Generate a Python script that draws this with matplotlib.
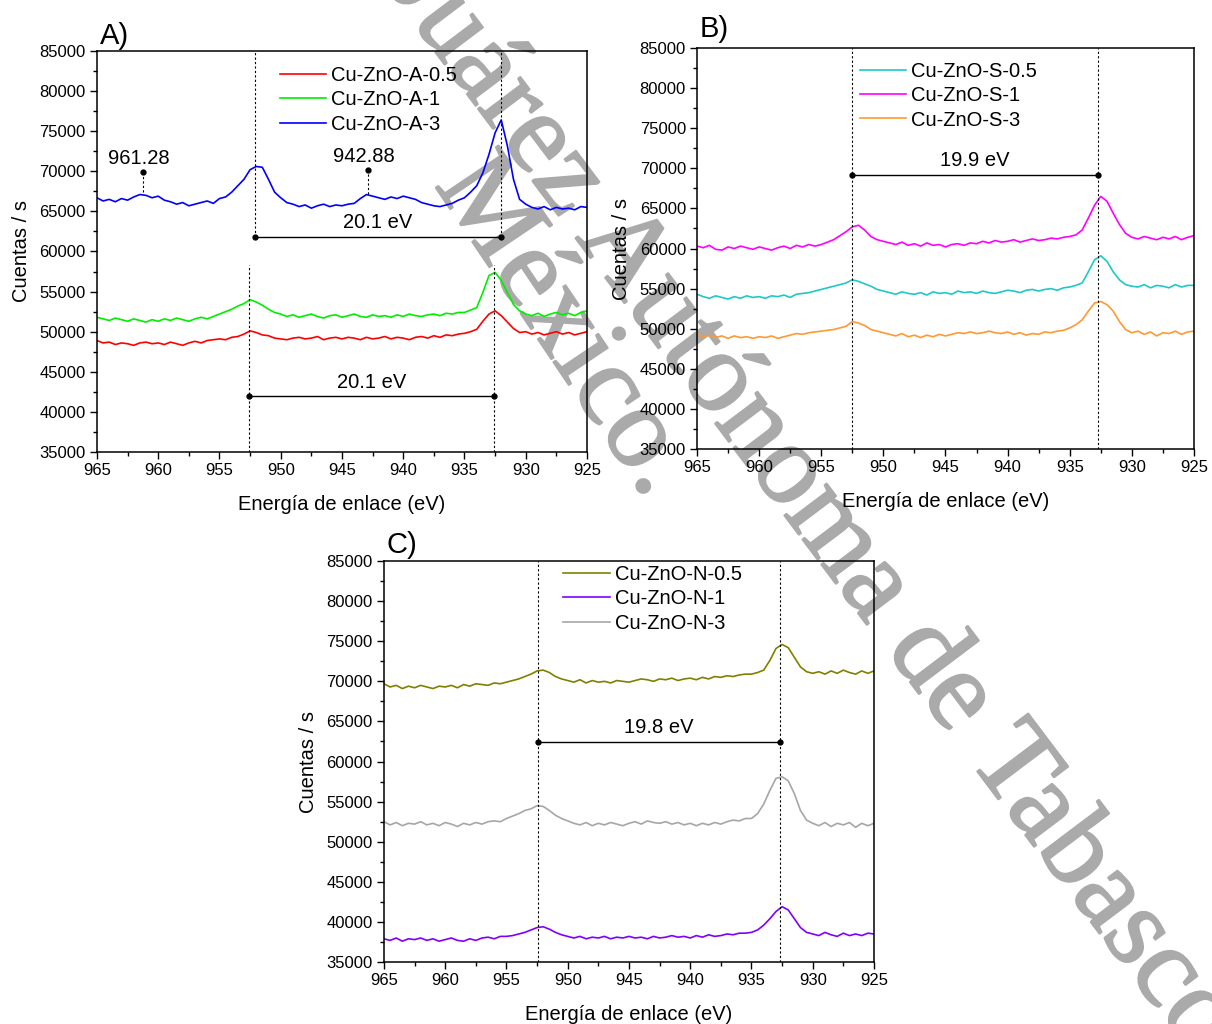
import numpy as np
import matplotlib
matplotlib.use("Agg")
import matplotlib.pyplot as plt
import matplotlib.patheffects as pe
from matplotlib.ticker import MultipleLocator

plt.rcParams['font.family'] = ['Liberation Sans', 'DejaVu Sans']

# binding energy grid, 965 -> 925 eV in 0.5 eV steps (81 points)
energy = np.linspace(965, 925, 81)

# --- panel A ---
cu_zno_a_05 = [48900, 48600, 48700, 48400, 48600, 48500, 48300, 48600, 48700, 48500,
               48600, 48400, 48700, 48500, 48300, 48600, 48800, 48600, 48900, 49000,
               49100, 49000, 49300, 49400, 49700, 50100, 49900, 49600, 49500, 49200,
               49100, 49000, 49200, 49300, 49100, 49200, 49400, 49000, 49200, 49300,
               49100, 49300, 49200, 49000, 49300, 49100, 49200, 49400, 49100, 49300,
               49200, 49000, 49300, 49400, 49200, 49500, 49300, 49600, 49500, 49700,
               49800, 50000, 50300, 51300, 52200, 52600, 52000, 51200, 50400, 49900,
               50000, 49700, 49900, 49600, 49800, 50000, 49700, 49900, 49600, 49800,
               50000]
cu_zno_a_1 = [51800, 51600, 51400, 51700, 51500, 51300, 51600, 51400, 51200, 51500,
              51300, 51600, 51400, 51700, 51500, 51300, 51600, 51800, 51600, 51900,
              52200, 52500, 52800, 53200, 53500, 54000, 53700, 53300, 52800, 52400,
              52200, 51900, 52100, 51800, 52000, 52200, 51900, 51700, 52000, 52100,
              51800, 52000, 52200, 51900, 51800, 52100, 51900, 52000, 51800, 52100,
              51900, 52200, 52000, 51900, 52100, 52200, 52000, 52300, 52200, 52400,
              52400, 52700, 53000, 54900, 57000, 57400, 56400, 54900, 53400, 52600,
              52200, 52000, 52300, 51900, 52200, 52400, 52100, 52300, 52000, 52400,
              52600]
cu_zno_a_3 = [66700, 66300, 66500, 66200, 66600, 66400, 66800, 67100, 67000, 66700,
              66900, 66400, 66200, 65900, 66100, 65700, 65900, 66100, 66300, 66000,
              66600, 66800, 67400, 68200, 69000, 70200, 70600, 70500, 69000, 67400,
              66700, 66100, 65900, 65600, 65800, 65400, 65700, 65900, 65600, 65800,
              65700, 65900, 66000, 66600, 67100, 66900, 66700, 66500, 66800, 66600,
              66900, 66700, 66500, 66100, 65900, 65700, 65600, 65800, 66000, 66400,
              66700, 67400, 68200, 69800, 72100, 74800, 76400, 73200, 69000, 66500,
              65900, 65500, 65300, 65600, 65200, 65500, 65300, 65400, 65200, 65600,
              65500]

# --- panel B ---
cu_zno_s_05 = [54300, 54000, 53800, 54100, 53900, 53700, 54000, 53800, 54100, 53900,
               54000, 53800, 54100, 54000, 54200, 53900, 54300, 54400, 54500, 54700,
               54900, 55100, 55300, 55500, 55700, 56100, 55900, 55600, 55300, 54900,
               54700, 54500, 54300, 54600, 54400, 54300, 54500, 54200, 54600, 54400,
               54500, 54300, 54700, 54500, 54600, 54400, 54700, 54500, 54400, 54600,
               54800, 54700, 54500, 54800, 54900, 54700, 54900, 55000, 54800, 55100,
               55200, 55400, 55700, 57100, 58600, 59100, 58400, 57100, 56100, 55500,
               55300, 55200, 55500, 55100, 55400, 55300, 55100, 55500, 55200, 55400,
               55400]
cu_zno_s_1 = [60300, 60100, 60400, 59900, 59800, 60200, 60000, 60300, 60100, 59900,
              60200, 60000, 59800, 60100, 60300, 60000, 60400, 60200, 60500, 60300,
              60500, 60800, 61100, 61600, 62100, 62700, 62900, 62300, 61500, 61100,
              60900, 60700, 60500, 60800, 60400, 60600, 60300, 60700, 60400, 60500,
              60200, 60500, 60600, 60400, 60700, 60600, 60900, 60700, 61000, 60800,
              60900, 61100, 60800, 61000, 61200, 61000, 61100, 61300, 61200, 61400,
              61500, 61700, 62300, 63800, 65400, 66500, 65900, 64400, 63000, 61900,
              61400, 61200, 61500, 61300, 61100, 61400, 61200, 61500, 61100, 61400,
              61600]
cu_zno_s_3 = [49300, 49000, 49200, 48900, 49100, 48800, 49100, 48900, 49000, 48800,
              49000, 48900, 49100, 48800, 49000, 49200, 49400, 49300, 49500, 49600,
              49700, 49800, 49900, 50100, 50300, 50900, 50700, 50400, 49900, 49700,
              49500, 49300, 49100, 49400, 49000, 49200, 48900, 49200, 49000, 49300,
              49100, 49300, 49500, 49400, 49600, 49400, 49500, 49700, 49500, 49400,
              49600, 49300, 49500, 49200, 49400, 49300, 49600, 49500, 49700, 49800,
              50100, 50500, 51100, 52200, 53200, 53400, 53000, 52200, 50900, 49900,
              49500, 49700, 49300, 49600, 49100, 49500, 49400, 49700, 49300, 49600,
              49700]

# --- panel C ---
cu_zno_n_05 = [69700, 69300, 69500, 69100, 69400, 69200, 69500, 69300, 69100, 69400,
               69300, 69500, 69200, 69600, 69400, 69700, 69600, 69500, 69800, 69700,
               69900, 70100, 70300, 70600, 70900, 71300, 71400, 71100, 70600, 70300,
               70100, 69900, 70200, 69800, 70100, 69900, 70000, 69800, 70100, 70000,
               69900, 70100, 70300, 70200, 70000, 70300, 70200, 70400, 70100, 70300,
               70400, 70200, 70500, 70300, 70600, 70500, 70700, 70600, 70800, 70900,
               70900, 71100, 71400, 72600, 74100, 74600, 74200, 73000, 71800, 71200,
               71000, 71200, 70900, 71300, 71000, 71400, 71100, 70900, 71300, 71000,
               71300]
cu_zno_n_1 = [37900, 37700, 38000, 37600, 37900, 37800, 38000, 37700, 37900, 37600,
              37800, 38000, 37700, 37600, 37900, 37700, 38000, 38100, 37900, 38200,
              38200, 38300, 38500, 38700, 39000, 39300, 39400, 39100, 38700, 38400,
              38200, 38000, 38200, 37900, 38100, 38000, 38200, 37900, 38100, 38000,
              38200, 38000, 38100, 37900, 38200, 38000, 38100, 38300, 38100, 38200,
              38000, 38300, 38100, 38400, 38200, 38300, 38500, 38400, 38600, 38600,
              38700, 39000, 39600, 40400, 41300, 41900, 41500, 40400, 39300, 38700,
              38500, 38300, 38700, 38400, 38200, 38600, 38300, 38500, 38300, 38600,
              38500]
cu_zno_n_3 = [52500, 52100, 52400, 52000, 52300, 52200, 52500, 52100, 52300, 52000,
              52400, 52200, 51900, 52300, 52100, 52400, 52200, 52500, 52600, 52500,
              52900, 53200, 53500, 53900, 54100, 54500, 54400, 53900, 53300, 52900,
              52600, 52300, 52100, 52400, 52000, 52300, 52100, 52400, 52200, 52000,
              52300, 52500, 52200, 52600, 52400, 52300, 52500, 52200, 52400, 52100,
              52300, 52000, 52300, 52100, 52400, 52200, 52500, 52700, 52600, 52900,
              52900, 53500, 54700, 56400, 57900, 58100, 57600, 56000, 53900, 52700,
              52300, 52000, 52400, 51900, 52300, 52100, 52400, 51800, 52300, 52000,
              52300]

labels_a = ["Cu-ZnO-A-0.5", "Cu-ZnO-A-1", "Cu-ZnO-A-3"]
labels_s = ["Cu-ZnO-S-0.5", "Cu-ZnO-S-1", "Cu-ZnO-S-3"]
labels_n = ["Cu-ZnO-N-0.5", "Cu-ZnO-N-1", "Cu-ZnO-N-3"]
colors_a = ["#ff0000", "#00ee00", "#0000ff"]
colors_s = ["#1ec8c8", "#ff00ff", "#ff9933"]
colors_n = ["#808000", "#8000ff", "#a6a6a6"]

# peak marks: (Cu 2p1/2, Cu 2p3/2, bracket height, label)
marks_a_top = (952.1, 932.0, 61850, "20.1 eV")
marks_a_bot = (952.6, 932.6, 41930, "20.1 eV")
marks_s = (952.5, 932.75, 69200, "19.9 eV")
marks_n = (952.45, 932.7, 62430, "19.8 eV")
satellites = [(961.28, 67400, 69850, "961.28"), (942.88, 67150, 70190, "942.88")]

fig = plt.figure(figsize=(12.12, 10.24), dpi=100)
ax_a = fig.add_axes([0.0800, 0.5586, 0.4043, 0.3916])
ax_b = fig.add_axes([0.5751, 0.5615, 0.4100, 0.3916])
ax_c = fig.add_axes([0.3168, 0.0605, 0.4043, 0.3916])


def style(ax, letter, ly):
    ax.set_facecolor('none')
    ax.set_xlim(965, 925)
    ax.set_ylim(35000, 85000)
    ax.xaxis.set_major_locator(MultipleLocator(5))
    ax.xaxis.set_minor_locator(MultipleLocator(2.5))
    ax.yaxis.set_major_locator(MultipleLocator(5000))
    ax.yaxis.set_minor_locator(MultipleLocator(2500))
    ax.tick_params(which='major', direction='out', length=5, width=1, labelsize=12, pad=3)
    ax.tick_params(which='minor', direction='out', length=3, width=1)
    ax.tick_params(top=False, right=False)
    for s in ax.spines.values():
        s.set_linewidth(1.1)
    ax.set_xlabel("Energía de enlace (eV)", fontsize=14.5, labelpad=12)
    ax.set_ylabel("Cuentas / s", fontsize=14.5, labelpad=6)
    ax.text(0.006, ly, letter, transform=ax.transAxes, fontsize=21, va='baseline', ha='left')


def bracket(ax, m, ytop=85000, ybot=None):
    x1, x2, yb, txt = m
    lo = yb if ybot is None else ybot
    for x in (x1, x2):
        ax.plot([x, x], [lo, ytop], color='k', lw=0.8, ls=(0, (2, 2)))
    ax.plot([x1, x2], [yb, yb], color='k', lw=1, marker='o', ms=3.5)
    ax.text((x1 + x2) / 2, yb + 600, txt, fontsize=14.5, ha='center', va='bottom')


for ys, c, l in zip([cu_zno_a_05, cu_zno_a_1, cu_zno_a_3], colors_a, labels_a):
    ax_a.plot(energy, ys, color=c, lw=1.2, label=l)
bracket(ax_a, marks_a_top)
x1, x2, yb, txt = marks_a_bot
for x in (x1, x2):
    ax_a.plot([x, x], [35000, 58300], color='k', lw=0.8, ls=(0, (2, 2)))
ax_a.plot([x1, x2], [yb, yb], color='k', lw=1, marker='o', ms=3.5)
ax_a.text((x1 + x2) / 2, yb + 600, txt, fontsize=14.5, ha='center', va='bottom')
for x, y0, y1, txt in satellites:
    ax_a.plot([x, x], [y0, y1], color='k', lw=0.8, ls=(0, (2, 2)))
    ax_a.plot([x], [y1], 'ko', ms=3.5)
    ax_a.text(x + 0.3, y1 + 500, txt, fontsize=14.5, ha='center', va='bottom')
style(ax_a, "A)", 1.017)
ax_a.legend(loc='upper left', bbox_to_anchor=(0.373, 0.963), frameon=False, fontsize=14.5,
            handlelength=2.3, handletextpad=0.25, labelspacing=0.27, borderpad=0, borderaxespad=0)

for ys, c, l in zip([cu_zno_s_05, cu_zno_s_1, cu_zno_s_3], colors_s, labels_s):
    ax_b.plot(energy, ys, color=c, lw=1.2, label=l)
bracket(ax_b, marks_s, ybot=35000)
style(ax_b, "B)", 1.027)
ax_b.legend(loc='upper left', bbox_to_anchor=(0.327, 0.966), frameon=False, fontsize=14.5,
            handlelength=2.3, handletextpad=0.25, labelspacing=0.27, borderpad=0, borderaxespad=0)

for ys, c, l in zip([cu_zno_n_05, cu_zno_n_1, cu_zno_n_3], colors_n, labels_n):
    ax_c.plot(energy, ys, color=c, lw=1.2, label=l)
bracket(ax_c, marks_n, ybot=35000)
style(ax_c, "C)", 1.02)
ax_c.legend(loc='upper left', bbox_to_anchor=(0.366, 0.99), frameon=False, fontsize=14.5,
            handlelength=2.3, handletextpad=0.25, labelspacing=0.27, borderpad=0, borderaxespad=0)

# watermark behind the plot content
wm = dict(color='#aaaaaa', fontsize=83, family='Liberation Serif', rotation_mode='anchor',
          va='baseline', zorder=-5,
          path_effects=[pe.withStroke(linewidth=1.5, foreground='#aaaaaa')])
fig.text(610 / 1212, 1 - 284 / 1024, "Universidad Juárez Autónoma de Tabasco",
         rotation=-53, ha='center', **wm)
fig.text(434 / 1212, 1 - 185 / 1024, "México.", rotation=-56, ha='left', **wm)

fig.savefig("out.png", dpi=100)
